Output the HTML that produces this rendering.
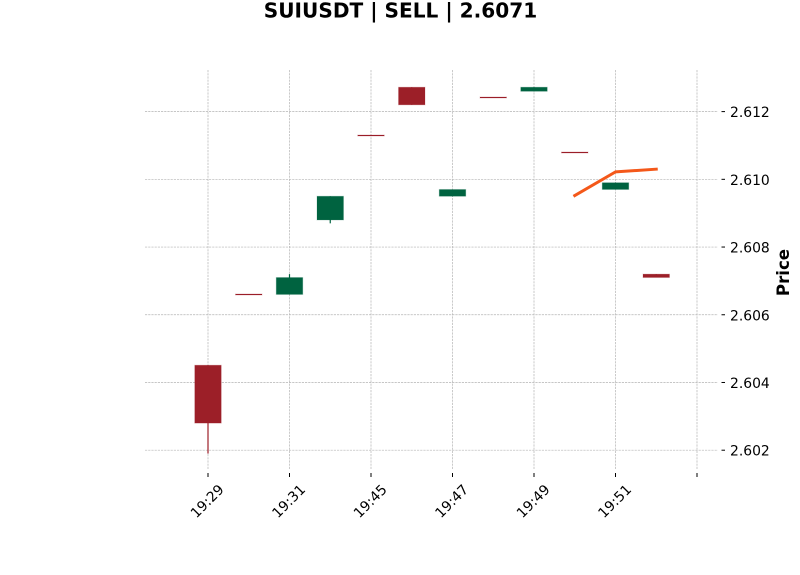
<!DOCTYPE html>
<html>
<head>
<meta charset="utf-8">
<title>SUIUSDT | SELL | 2.6071</title>
<style>
html,body{margin:0;padding:0;background:#fff;}
svg{display:block;font-family:"DejaVu Sans","Liberation Sans",sans-serif;}
</style>
</head>
<body>
<svg id="chart" xmlns="http://www.w3.org/2000/svg" width="800" height="575" viewBox="0 0 800 575">
  <rect x="0" y="0" width="800" height="575" fill="#ffffff"/>
  <text x="400.5" y="17.3" text-anchor="middle" font-size="20.1" font-weight="700" fill="#000">SUIUSDT | SELL | 2.6071</text>
  <g id="grid"></g>
  <g id="candles"></g>
  <g id="overlay"></g>
  <g id="xaxis"></g>
  <g id="yaxis"></g>
  <text transform="translate(789,272.5) rotate(-90)" text-anchor="middle" font-size="16.6" font-weight="700" fill="#000">Price</text>
</svg>
<script>
const opens = [2.60451, 2.60660, 2.60660, 2.60880, 2.61130, 2.61272, 2.60950, 2.61243, 2.61260, 2.61080, 2.60970, 2.60720];
const closes = [2.60280, 2.60660, 2.60710, 2.60950, 2.61130, 2.61220, 2.60970, 2.61243, 2.61272, 2.61080, 2.60990, 2.60710];
const highs = [2.60451, 2.60660, 2.60720, 2.60950, 2.61130, 2.61272, 2.60970, 2.61243, 2.61272, 2.61080, 2.60990, 2.60720];
const lows = [2.60190, 2.60660, 2.60660, 2.60870, 2.61130, 2.61220, 2.60950, 2.61243, 2.61260, 2.61080, 2.60970, 2.60710];
const sides = ['down', 'down', 'up', 'up', 'down', 'down', 'up', 'down', 'up', 'down', 'up', 'down'];
const lineIndexes = [9, 10, 11];
const lineValues = [2.60952, 2.61022, 2.61030];
const yTicks = [2.602, 2.604, 2.606, 2.608, 2.610, 2.612];
const yTickLabels = ['2.602', '2.604', '2.606', '2.608', '2.610', '2.612'];
const xTickIndexes = [0, 2, 4, 6, 8, 10, 12];
const xTickLabels = ['19:29', '19:31', '19:45', '19:47', '19:49', '19:51', ''];

const SVG_NS = 'http://www.w3.org/2000/svg';
const RED = '#9c1f28';
const GREEN = '#006340';
const xScale = function (i) { return 208 + i * 40.75; };
const yScale = function (p) { return 450.2 - (p - 2.602) * 33860; };

function make(parent, tag, props) {
  const el = document.createElementNS(SVG_NS, tag);
  for (const k in props) el.setAttribute(k, props[k]);
  parent.appendChild(el);
  return el;
}

const grid = document.getElementById('grid');
const xaxis = document.getElementById('xaxis');
const yaxis = document.getElementById('yaxis');
const candles = document.getElementById('candles');
const overlay = document.getElementById('overlay');

yTicks.forEach(function (v, i) {
  const y = yScale(v);
  const g = make(grid, 'line', { x1: 145, x2: 718, y1: y, y2: y, stroke: '#b4b4b4', 'stroke-width': 0.7, 'stroke-dasharray': '2.2 1' });
  
  
  const t = make(yaxis, 'line', { x1: 721.5, x2: 725, y1: y, y2: y, stroke: '#000', 'stroke-width': 1 });
  
  
  const l = make(yaxis, 'text', { x: 730, y: y + 5.5, 'font-size': 13.9, fill: '#000' });
  
  
  l.textContent = yTickLabels[i];
});

xTickIndexes.forEach(function (idx, i) {
  const x = xScale(idx);
  const g = make(grid, 'line', { x1: x, x2: x, y1: 70, y2: 470, stroke: '#b4b4b4', 'stroke-width': 0.7, 'stroke-dasharray': '2.2 1' });
  
  
  const t = make(xaxis, 'line', { x1: x, x2: x, y1: 473, y2: 477, stroke: '#000', 'stroke-width': 1 });
  
  
  if (xTickLabels[i]) {
    const l = make(xaxis, 'text', { transform: 'translate(' + (x - 1) + ',501) rotate(-45)', x: 0, y: 5, 'text-anchor': 'middle', 'font-size': 13.9, fill: '#000' });
    
    
    l.textContent = xTickLabels[i];
  }
});

opens.forEach(function (o, i) {
  const c = closes[i];
  const color = sides[i] === 'up' ? GREEN : RED;
  const x = xScale(i);
  const top = yScale(Math.max(o, c));
  const bottom = yScale(Math.min(o, c));
  const wick = make(candles, 'line', { x1: x, x2: x, y1: yScale(highs[i]), y2: yScale(lows[i]), stroke: color, 'stroke-width': 1.2 });
  
  
  const h = bottom - top;
  const w = 26.5;
  const flat = h < 0.5;
  const bodyY = flat ? Math.floor(top) : top;
  const body = make(candles, 'rect', { x: x - w / 2, y: bodyY, width: w, height: flat ? 1 : h, fill: color, stroke: color, 'stroke-opacity': 0.2, 'stroke-width': 1 });
  
  
});

const points = lineIndexes.map(function (idx, i) {
  return xScale(idx) + ',' + yScale(lineValues[i]);
}).join(' ');
const priceLine = make(overlay, 'polyline', { points: points, fill: 'none', stroke: '#f4581a', 'stroke-width': 3, 'stroke-linecap': 'square', 'stroke-linejoin': 'round' });


</script>
</body>
</html>
